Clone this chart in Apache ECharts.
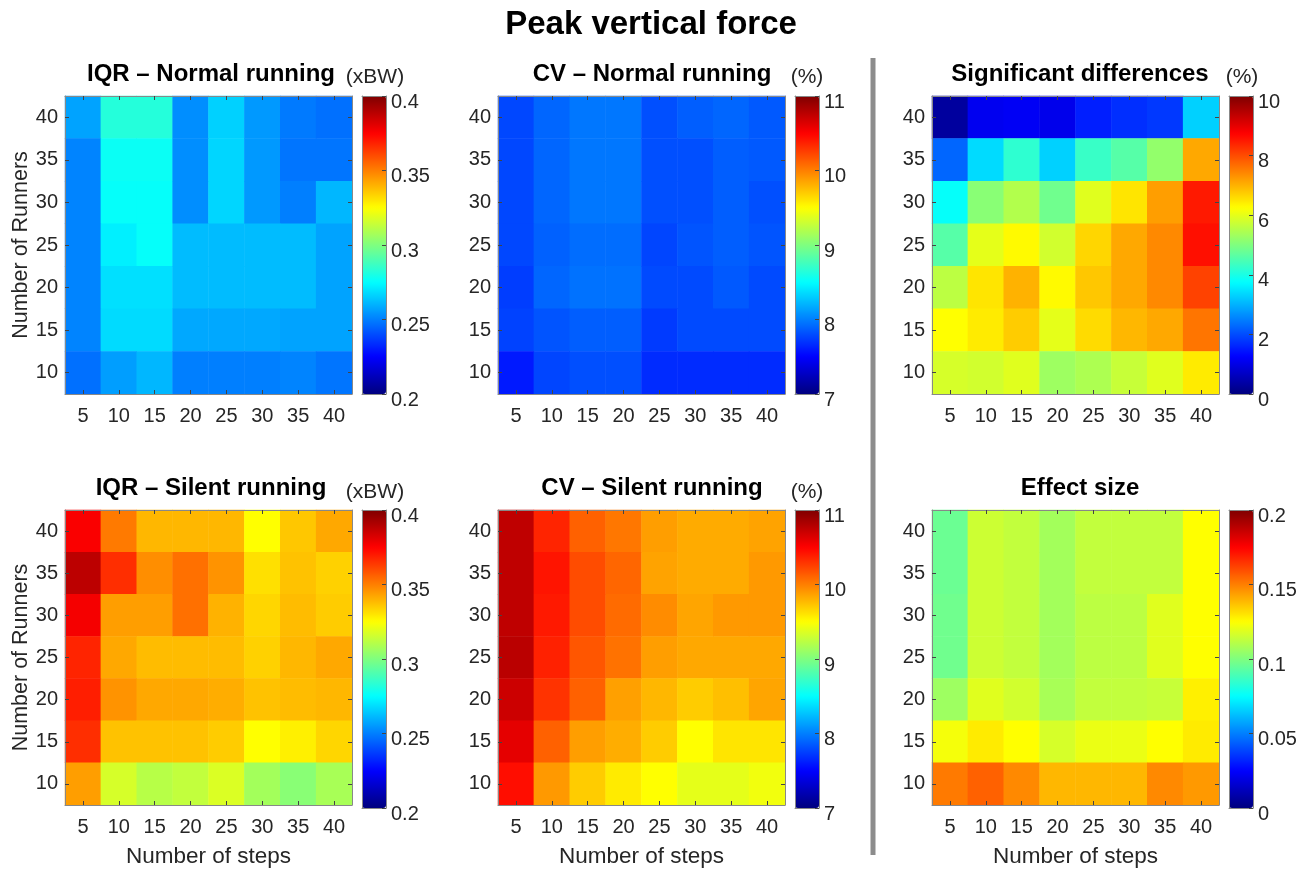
<!DOCTYPE html>
<html>
<head>
<meta charset="utf-8">
<title>Peak vertical force</title>
<script src="https://cdn.jsdelivr.net/npm/echarts@6/dist/echarts.min.js"></script>
<style>
html, body { margin: 0; padding: 0; background: #fff; }
#main { width: 1303px; height: 869px; }
</style>
</head>
<body>
<div id="main"></div>
<script>
var steps = ['5', '10', '15', '20', '25', '30', '35', '40'];
var runners = ['10', '15', '20', '25', '30', '35', '40'];

// rows go from top (40 runners) to bottom (10 runners)
var iqrNormal = [
  [0.257, 0.282, 0.282, 0.253, 0.266, 0.255, 0.249, 0.247],
  [0.251, 0.277, 0.277, 0.253, 0.267, 0.255, 0.248, 0.248],
  [0.251, 0.276, 0.276, 0.253, 0.267, 0.255, 0.250, 0.261],
  [0.251, 0.272, 0.276, 0.262, 0.262, 0.262, 0.262, 0.257],
  [0.251, 0.269, 0.269, 0.262, 0.262, 0.262, 0.262, 0.257],
  [0.251, 0.268, 0.268, 0.258, 0.258, 0.258, 0.257, 0.257],
  [0.247, 0.256, 0.261, 0.250, 0.250, 0.250, 0.251, 0.248]
];
var cvNormal = [
  [7.78, 7.90, 7.97, 7.97, 7.81, 7.87, 7.90, 7.85],
  [7.78, 7.90, 7.97, 7.97, 7.81, 7.81, 7.87, 7.85],
  [7.78, 7.90, 7.97, 7.97, 7.81, 7.81, 7.87, 7.81],
  [7.78, 7.88, 7.93, 7.93, 7.77, 7.83, 7.87, 7.83],
  [7.74, 7.90, 7.95, 7.95, 7.79, 7.79, 7.85, 7.79],
  [7.76, 7.83, 7.87, 7.87, 7.73, 7.79, 7.79, 7.79],
  [7.60, 7.77, 7.81, 7.81, 7.67, 7.67, 7.67, 7.67]
];
var sigDiff = [
  [0.3, 1.1, 1.15, 1.05, 1.55, 1.7, 1.8, 3.3],
  [2.25, 3.4, 4.2, 3.3, 4.3, 4.6, 5.2, 7.1],
  [3.8, 5.1, 5.5, 4.85, 5.95, 6.5, 7.2, 8.5],
  [4.6, 6.0, 6.3, 5.8, 6.65, 7.1, 7.4, 8.6],
  [5.6, 6.5, 7.0, 6.3, 6.8, 7.1, 7.4, 8.1],
  [6.25, 6.45, 6.75, 6.0, 6.6, 6.95, 7.1, 7.6],
  [5.85, 5.8, 5.95, 5.3, 5.45, 5.7, 5.95, 6.45]
];
var iqrSilent = [
  [0.376, 0.351, 0.339, 0.339, 0.339, 0.325, 0.336, 0.342],
  [0.388, 0.366, 0.347, 0.353, 0.346, 0.331, 0.337, 0.334],
  [0.377, 0.344, 0.344, 0.353, 0.340, 0.333, 0.338, 0.335],
  [0.368, 0.342, 0.338, 0.338, 0.338, 0.334, 0.339, 0.342],
  [0.369, 0.346, 0.342, 0.342, 0.341, 0.337, 0.338, 0.339],
  [0.366, 0.337, 0.337, 0.337, 0.335, 0.325, 0.328, 0.333],
  [0.344, 0.317, 0.311, 0.313, 0.318, 0.307, 0.302, 0.308]
];
var cvSilent = [
  [10.75, 10.36, 10.12, 10.03, 9.88, 9.83, 9.83, 9.86],
  [10.75, 10.42, 10.20, 10.10, 9.86, 9.83, 9.83, 9.90],
  [10.75, 10.40, 10.20, 10.08, 9.95, 9.85, 9.90, 9.90],
  [10.77, 10.37, 10.16, 10.05, 9.88, 9.84, 9.84, 9.84],
  [10.70, 10.30, 10.12, 9.87, 9.78, 9.70, 9.75, 9.85],
  [10.60, 10.12, 9.88, 9.82, 9.70, 9.50, 9.60, 9.60],
  [10.45, 9.90, 9.70, 9.58, 9.50, 9.40, 9.40, 9.45]
];
var effectSize = [
  [0.096, 0.115, 0.113, 0.107, 0.113, 0.113, 0.113, 0.125],
  [0.096, 0.115, 0.113, 0.107, 0.113, 0.113, 0.113, 0.125],
  [0.097, 0.115, 0.113, 0.107, 0.112, 0.112, 0.119, 0.125],
  [0.097, 0.115, 0.113, 0.107, 0.112, 0.112, 0.119, 0.125],
  [0.106, 0.119, 0.116, 0.108, 0.113, 0.113, 0.114, 0.128],
  [0.123, 0.129, 0.125, 0.117, 0.121, 0.121, 0.125, 0.129],
  [0.151, 0.156, 0.148, 0.139, 0.139, 0.139, 0.148, 0.145]
];

// colour bar ranges and ticks
var cbMin = [0.2, 7, 0, 0.2, 7, 0];
var cbMax = [0.4, 11, 10, 0.4, 11, 0.2];
var cbStep = [0.05, 1, 2, 0.05, 1, 0.05];

var titles = ['IQR – Normal running', 'CV – Normal running', 'Significant differences',
  'IQR – Silent running', 'CV – Silent running', 'Effect size'];
var units = ['(xBW)', '(%)', '(%)', '(xBW)', '(%)', ''];
var panelData = [iqrNormal, cvNormal, sigDiff, iqrSilent, cvSilent, effectSize];

// matlab jet
var jet = ['#00007f', '#0000ff', '#007fff', '#00ffff', '#7fff7f', '#ffff00', '#ff7f00', '#ff0000', '#7f0000'];

var FONT = "'Liberation Sans', Arial, sans-serif";
var TXT = '#262626';
var plotLeft = [65, 498, 932];
var plotTop = [96, 510];
var plotW = 287, plotH = 298;
var titleX = [211, 652, 1080];
var unitX = [375, 807, 1242];
var titleY = [74, 488];
var unitY = [77, 492];

var grid = [], xAxis = [], yAxis = [], series = [], visualMap = [], title = [];

title.push({
  text: 'Peak vertical force', left: 651, top: 25, textAlign: 'center', textVerticalAlign: 'middle', padding: 0,
  textStyle: { fontFamily: FONT, fontSize: 33, fontWeight: 'bold', color: '#000' }
});

function frameAxis(gi, pos) {
  return {
    type: 'category', data: [''], gridIndex: gi, position: pos, z: 10,
    axisLine: { show: true, lineStyle: { color: '#888', width: 1 } },
    axisTick: { show: false }, axisLabel: { show: false }, splitLine: { show: false }
  };
}

function buildPanel(p) {
  var col = p % 3, row = Math.floor(p / 3);
  var px = plotLeft[col], py = plotTop[row];
  var g = grid.length;

  // heatmap grid
  grid.push({ left: px, top: py, width: plotW, height: plotH, containLabel: false });
  // colour bar grid
  grid.push({ left: px + 297, top: py, width: 24, height: plotH, containLabel: false });

  var xi = xAxis.length, yi = yAxis.length;
  xAxis.push({
    type: 'category', data: steps, gridIndex: g, position: 'bottom', z: 10,
    name: row == 1 ? 'Number of steps' : '', nameLocation: 'middle', nameGap: 40,
    nameTextStyle: { fontFamily: FONT, fontSize: 22.5, color: TXT },
    axisLine: { show: true, lineStyle: { color: '#888', width: 1 } },
    axisTick: { show: true, inside: true, alignWithLabel: true, length: 4, lineStyle: { color: '#444' } },
    axisLabel: { margin: 12, fontFamily: FONT, fontSize: 20, color: TXT },
    splitLine: { show: false }
  });
  xAxis.push({
    type: 'category', data: steps, gridIndex: g, position: 'top', z: 10,
    axisLine: { show: true, lineStyle: { color: '#888', width: 1 } },
    axisTick: { show: true, inside: true, alignWithLabel: true, length: 4, lineStyle: { color: '#444' } },
    axisLabel: { show: false }, splitLine: { show: false }
  });
  yAxis.push({
    type: 'category', data: runners, gridIndex: g, position: 'left', z: 10,
    name: col == 0 ? 'Number of Runners' : '', nameLocation: 'middle', nameGap: 32,
    nameTextStyle: { fontFamily: FONT, fontSize: 21.5, color: TXT },
    axisLine: { show: true, lineStyle: { color: '#888', width: 1 } },
    axisTick: { show: true, inside: true, alignWithLabel: true, length: 4, lineStyle: { color: '#444' } },
    axisLabel: { margin: 7, fontFamily: FONT, fontSize: 20, color: TXT },
    splitLine: { show: false }
  });
  yAxis.push({
    type: 'category', data: runners, gridIndex: g, position: 'right', z: 10,
    axisLine: { show: true, lineStyle: { color: '#888', width: 1 } },
    axisTick: { show: true, inside: true, alignWithLabel: true, length: 4, lineStyle: { color: '#444' } },
    axisLabel: { show: false }, splitLine: { show: false }
  });

  // colour bar axes (frame + tick labels)
  xAxis.push(frameAxis(g + 1, 'bottom'));
  xAxis.push(frameAxis(g + 1, 'top'));
  yAxis.push(frameAxis(g + 1, 'left'));
  yAxis.push({
    type: 'value', gridIndex: g + 1, position: 'right', min: cbMin[p], max: cbMax[p], interval: cbStep[p], z: 10,
    axisLine: { show: true, lineStyle: { color: '#888' } },
    axisTick: { show: true, inside: true, length: 4, lineStyle: { color: '#444' } },
    axisLabel: { margin: 5, fontFamily: FONT, fontSize: 20, color: TXT, verticalAlign: 'top', lineHeight: 12 },
    splitLine: { show: false }
  });

  var cells = [];
  var rows = panelData[p];
  for (var r = 0; r < rows.length; r++) {
    for (var c = 0; c < rows[r].length; c++) {
      cells.push([c, rows.length - 1 - r, rows[r][c]]);
    }
  }
  series.push({
    type: 'heatmap', xAxisIndex: xi, yAxisIndex: yi, data: cells,
    itemStyle: { borderWidth: 0 }
  });

  visualMap.push({
    type: 'continuous', seriesIndex: p, min: cbMin[p], max: cbMax[p],
    left: px + 297, top: py, itemWidth: 24, itemHeight: plotH,
    orient: 'vertical', calculable: false, hoverLink: false, padding: 0,
    inRange: { color: jet }
  });

  title.push({
    text: titles[p], left: titleX[col], top: titleY[row], textAlign: 'center', textVerticalAlign: 'middle', padding: 0,
    textStyle: { fontFamily: FONT, fontSize: 24, fontWeight: 'bold', color: '#000' }
  });
  if (units[p]) {
    title.push({
      text: units[p], left: unitX[col], top: unitY[row], textAlign: 'center', textVerticalAlign: 'middle', padding: 0,
      textStyle: { fontFamily: FONT, fontSize: 21, fontWeight: 'normal', color: TXT }
    });
  }
}

for (var p = 0; p < 6; p++) {
  buildPanel(p);
}

var chart = echarts.init(document.getElementById('main'));
chart.setOption({
  animation: false,
  backgroundColor: '#fff',
  title: title,
  grid: grid,
  xAxis: xAxis,
  yAxis: yAxis,
  visualMap: visualMap,
  series: series,
  graphic: [{
    type: 'line', z: 100,
    shape: { x1: 873, y1: 58, x2: 873, y2: 855 },
    style: { stroke: '#8c8c8c', lineWidth: 5 }
  }]
});
</script>
</body>
</html>
